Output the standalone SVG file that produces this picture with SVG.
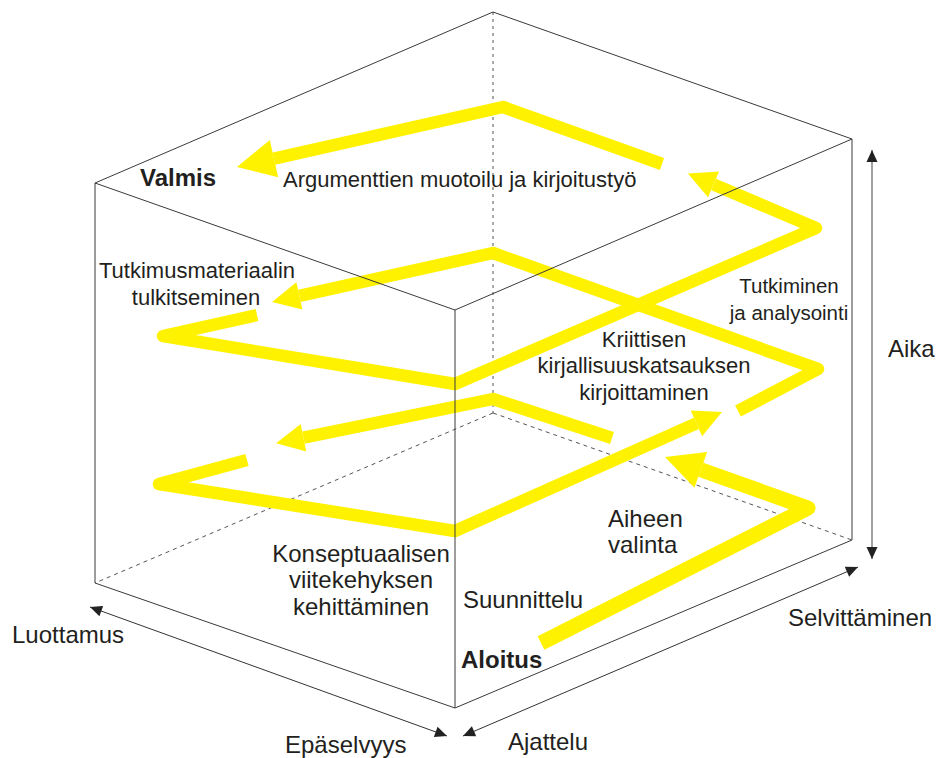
<svg xmlns="http://www.w3.org/2000/svg" width="936" height="758" viewBox="0 0 936 758">
  <style>
    .edge { fill: none; stroke: #3a3a3a; stroke-width: 1; }
    .hidden { fill: none; stroke: #555; stroke-width: 1; stroke-dasharray: 4 4; }
    .hidden-v { fill: none; stroke: #555; stroke-width: 1; stroke-dasharray: 3 4; }
    .flow { fill: none; stroke: #fff200; stroke-width: 12.5; stroke-linejoin: round; stroke-linecap: butt; }
    .flow-main { stroke-width: 15; }
    .axis { fill: none; stroke: #333; stroke-width: 1; }
    .axis-t { stroke: #8a8a8a; stroke-width: 1.6; }
    .lbl { font-family: "Liberation Sans", Arial, sans-serif; font-size: 24px; fill: #231f20; }
    .sm { font-size: 22px; }
    .bold { font-weight: bold; }
    .mid { text-anchor: middle; }
  </style>
  <defs>
    <marker id="head-lg" markerUnits="userSpaceOnUse" markerWidth="40" markerHeight="40" refX="0" refY="19" orient="auto" overflow="visible">
      <path d="M0,0 L38,19 L0,38 Z" fill="#fff200"/>
    </marker>
    <marker id="head-sm" markerUnits="userSpaceOnUse" markerWidth="30" markerHeight="30" refX="0" refY="14" orient="auto" overflow="visible">
      <path d="M0,0 L28,14 L0,28 Z" fill="#fff200"/>
    </marker>
    <marker id="tip" markerUnits="userSpaceOnUse" markerWidth="14" markerHeight="12" refX="12" refY="5.5" orient="auto-start-reverse" overflow="visible">
      <path d="M0,0 L12,5.5 L0,11 Z" fill="#222"/>
    </marker>
  </defs>

  <!-- hidden cube edges, behind the spiral -->
  <g id="cube-hidden">
    <path class="hidden-v" d="M493,12 V413"/>
    <path class="hidden" d="M493,413 L95,583 M493,413 L852,540"/>
  </g>

  <!-- yellow spiral: research process, bottom to top -->
  <g id="process-path">
    <path id="seg-aiheen-valinta" class="flow flow-main" d="M541,643 L808,508 L700.8,469.8" marker-end="url(#head-lg)"/>
    <path id="seg-suunnittelu" class="flow" d="M612,438 L493,399 L303.5,437.7" marker-end="url(#head-sm)"/>
    <path id="seg-viitekehys" class="flow" d="M247,460 L159,484 L455,531 L696.4,423.4" marker-end="url(#head-sm)"/>
    <path id="seg-kirjallisuus" class="flow" d="M738,411 L818,369 L493,253 L299.4,295.9" marker-end="url(#head-sm)"/>
    <path id="seg-tutkiminen" class="flow" d="M257,315 L163,336 L455,384 L816,228 L713.6,184.4" marker-end="url(#head-sm)"/>
    <path id="seg-argumentit" class="flow" d="M662,164 L503,107 L274,158.6" marker-end="url(#head-lg)"/>
  </g>

  <!-- visible cube edges -->
  <g id="cube">
    <path class="edge" d="M95,183 L493,12 L852,139 L455,310 Z"/>
    <path class="edge" d="M95,183 V583 L455,708 L852,540 V139 M455,310 V708"/>
  </g>

  <!-- axes -->
  <g id="axes">
    <path class="axis axis-t" d="M872,150 V559" marker-start="url(#tip)" marker-end="url(#tip)"/>
    <path class="axis" d="M90,607 L447,736" marker-start="url(#tip)" marker-end="url(#tip)"/>
    <path class="axis" d="M463,736 L858,567" marker-start="url(#tip)" marker-end="url(#tip)"/>
  </g>

  <!-- labels -->
  <g id="labels">
    <text class="lbl bold" x="140" y="186">Valmis</text>
    <text class="lbl sm" x="283" y="187">Argumenttien muotoilu ja kirjoitustyö</text>
    <text class="lbl sm mid" x="197" y="278">Tutkimusmateriaalin</text>
    <text class="lbl sm mid" x="196" y="305">tulkitseminen</text>
    <text class="lbl mid" x="789" y="293" style="font-size:20.5px">Tutkiminen</text>
    <text class="lbl mid" x="789" y="320" style="font-size:20.5px">ja analysointi</text>
    <text class="lbl sm mid" x="644" y="347">Kriittisen</text>
    <text class="lbl sm mid" x="644" y="373">kirjallisuuskatsauksen</text>
    <text class="lbl sm mid" x="644" y="400">kirjoittaminen</text>
    <text class="lbl" x="888" y="357">Aika</text>
    <text class="lbl" x="608" y="527">Aiheen</text>
    <text class="lbl" x="608" y="553">valinta</text>
    <text class="lbl mid" x="361" y="562">Konseptuaalisen</text>
    <text class="lbl mid" x="361" y="588">viitekehyksen</text>
    <text class="lbl mid" x="361" y="615">kehittäminen</text>
    <text class="lbl" x="463" y="608">Suunnittelu</text>
    <text class="lbl bold" x="461" y="668">Aloitus</text>
    <text class="lbl" x="788" y="626">Selvittäminen</text>
    <text class="lbl" x="12" y="643">Luottamus</text>
    <text class="lbl" x="285" y="753">Epäselvyys</text>
    <text class="lbl" x="508" y="750">Ajattelu</text>
  </g>
</svg>
